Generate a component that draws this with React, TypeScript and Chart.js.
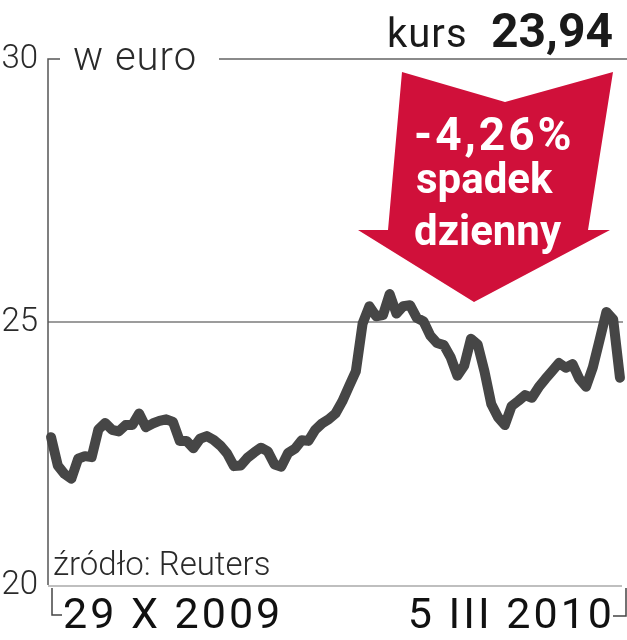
import React, { useEffect, useRef } from "react";
import { Chart, registerables } from "chart.js";

Chart.register(...registerables);

// Daily closing price (EUR), 29 X 2009 – 5 III 2010
const priceEUR: number[] = [
  22.81, 22.27, 22.11, 22.02, 22.4, 22.45, 22.43, 22.96, 23.08, 22.95,
  22.92, 23.04, 23.04, 23.26, 23.0, 23.07, 23.12, 23.15, 23.1, 22.74,
  22.74, 22.6, 22.78, 22.83, 22.76, 22.65, 22.5, 22.26, 22.27, 22.42,
  22.52, 22.61, 22.54, 22.29, 22.25, 22.51, 22.59, 22.75, 22.74, 22.95,
  23.07, 23.15, 23.26, 23.49, 23.78, 24.06, 24.97, 25.3, 25.11, 25.13,
  25.53, 25.16, 25.3, 25.32, 25.08, 25.01, 24.74, 24.6, 24.56, 24.33,
  23.98, 24.17, 24.68, 24.57, 24.06, 23.44, 23.19, 23.04, 23.4, 23.5,
  23.61, 23.56, 23.76, 23.92, 24.07, 24.22, 24.13, 24.2, 23.92, 23.77,
  24.14, 24.66, 25.19, 25.05, 23.94,
];
const dayIndex: number[] = priceEUR.map((_, i) => i);
const yTicks: number[] = [20, 25, 30];
const yMin = 20;
const yMax = 30;
const startLabel = "29 X 2009";
const endLabel = "5 III 2010";
const unitLabel = "w euro";
const lastLabel = "kurs";
const lastValue = "23,94";
const changeLines: string[] = ["-4,26%", "spadek", "dzienny"];
const sourceLabel = "źródło: Reuters";

const FONT = "Roboto, 'DejaVu Sans', sans-serif";

const decorPlugin = {
  id: "decor",
  beforeDatasetsDraw(chart: any) {
    const { ctx, chartArea, scales } = chart;
    const { left, right, bottom } = chartArea;
    const y = scales.y;
    const y30 = y.getPixelForValue(30);
    const y25 = y.getPixelForValue(25);
    const y20 = y.getPixelForValue(20);
    ctx.save();
    // 25 gridline
    ctx.strokeStyle = "#9c9c9c";
    ctx.lineWidth = 2;
    ctx.beginPath();
    ctx.moveTo(left, y25);
    ctx.lineTo(right, y25);
    ctx.stroke();
    // top line (30) split around the unit label
    ctx.strokeStyle = "#8a8a8a";
    ctx.beginPath();
    ctx.moveTo(219, y30);
    ctx.lineTo(627, y30);
    ctx.stroke();
    ctx.strokeStyle = "#555";
    ctx.lineWidth = 1.5;
    ctx.beginPath();
    ctx.moveTo(left + 12, y30);
    ctx.lineTo(left, y30);
    ctx.lineTo(left, y20);
    ctx.stroke();
    // bottom line
    ctx.strokeStyle = "#aaaaaa";
    ctx.lineWidth = 1.5;
    ctx.beginPath();
    ctx.moveTo(left, bottom + 1);
    ctx.lineTo(right - 1, bottom + 1);
    ctx.stroke();
    // brackets under axis
    ctx.strokeStyle = "#444";
    ctx.lineWidth = 1.5;
    ctx.beginPath();
    ctx.moveTo(left + 4, bottom + 3);
    ctx.lineTo(left + 4, bottom + 30);
    ctx.lineTo(left + 14, bottom + 30);
    ctx.moveTo(right + 3, bottom + 3);
    ctx.lineTo(right + 3, bottom + 31);
    ctx.lineTo(right - 10, bottom + 31);
    ctx.stroke();

    // y tick labels
    ctx.fillStyle = "#2a2a2a";
    ctx.font = `300 33px ${FONT}`;
    ctx.textAlign = "right";
    ctx.textBaseline = "middle";
    yTicks.forEach((t) => {
      ctx.fillText(String(t), 38, y.getPixelForValue(t) + 1);
    });
    // unit label
    ctx.textAlign = "left";
    ctx.textBaseline = "alphabetic";
    ctx.font = `300 40px ${FONT}`;
    ctx.letterSpacing = "1px";
    ctx.fillText(unitLabel, 73, 70);
    // kurs
    ctx.fillStyle = "#1a1a1a";
    ctx.font = `400 40px ${FONT}`;
    ctx.letterSpacing = "1px";
    ctx.fillText(lastLabel, 387, 47);
    ctx.letterSpacing = "0px";
    ctx.font = `700 48px ${FONT}`;
    ctx.textAlign = "right";
    ctx.fillText(lastValue, 613, 47);
    // source
    ctx.textAlign = "left";
    ctx.fillStyle = "#2a2a2a";
    ctx.font = `300 33px ${FONT}`;
    ctx.fillText(sourceLabel, 53, 575);
    // x labels
    ctx.fillStyle = "#111";
    ctx.font = `400 43px ${FONT}`;
    ctx.letterSpacing = "3px";
    ctx.fillText(startLabel, 63, 628);
    ctx.textAlign = "right";
    ctx.fillText(endLabel, 615, 628);
    ctx.letterSpacing = "0px";
    ctx.restore();
  },
  afterDatasetsDraw(chart: any) {
    const { ctx } = chart;
    ctx.save();
    ctx.fillStyle = "#d0103a";
    ctx.beginPath();
    ctx.moveTo(402, 72);
    ctx.lineTo(505, 102);
    ctx.lineTo(613, 72);
    ctx.lineTo(588, 230);
    ctx.lineTo(610, 230);
    ctx.lineTo(474, 302);
    ctx.lineTo(358, 230);
    ctx.lineTo(388, 230);
    ctx.closePath();
    ctx.fill();
    ctx.fillStyle = "#ffffff";
    ctx.textAlign = "left";
    ctx.textBaseline = "alphabetic";
    ctx.font = `700 46px ${FONT}`;
    ctx.letterSpacing = "3px";
    ctx.fillText(changeLines[0], 414, 150);
    ctx.letterSpacing = "0px";
    ctx.font = `700 42px ${FONT}`;
    ctx.fillText(changeLines[1], 416, 193);
    ctx.fillText(changeLines[2], 414, 245);
    ctx.restore();
  },
};

export default function App() {
  const ref = useRef<HTMLCanvasElement | null>(null);
  useEffect(() => {
    if (!ref.current) return;
    const chart = new Chart(ref.current, {
      type: "line",
      data: {
        datasets: [
          {
            data: dayIndex.map((d, i) => ({ x: d, y: priceEUR[i] })),
            borderColor: "#464646",
            borderWidth: 10,
            pointRadius: 0,
            tension: 0,
            borderJoinStyle: "round",
            borderCapStyle: "round",
            clip: false as any,
          },
        ],
      },
      options: {
        animation: false,
        responsive: false,
        maintainAspectRatio: false,
        layout: { padding: { left: 48, right: 4, top: 59, bottom: 55 } },
        plugins: { legend: { display: false }, tooltip: { enabled: false } },
        scales: {
          x: { type: "linear", display: false, min: -0.45, max: priceEUR.length - 1 + 0.45 },
          y: { type: "linear", display: false, min: yMin, max: yMax },
        },
      },
      plugins: [decorPlugin],
    });
    return () => chart.destroy();
  }, []);
  return (
    <div style={{ position: "fixed", left: 0, top: 0, width: 627, height: 640, background: "#fff" }}>
      <canvas ref={ref} width={627} height={640} style={{ display: "block" }} />
    </div>
  );
}
